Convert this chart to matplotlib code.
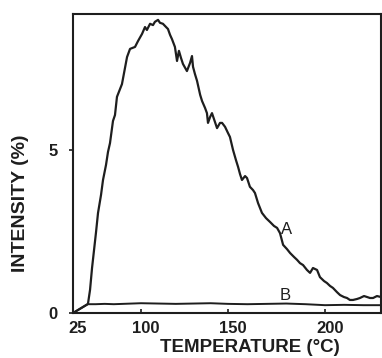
"""
Intensity vs. temperature, curves A and B (digitised from a scanned figure).
Output: out.png (382x358 px)
"""

import numpy as np
import matplotlib
matplotlib.use('Agg')
import matplotlib.pyplot as plt
from matplotlib.transforms import ScaledTranslation


# ============================ Data ============================
TEMP_A = [25.0, 41.5, 43.8, 46.0, 48.2, 50.4, 52.6, 55.9, 58.1, 61.4, 63.6, 65.8,
          69.1, 71.3, 73.5, 79.0, 84.6, 87.9, 93.4, 96.7, 100.6, 102.3, 103.4,
          105.2, 106.9, 108.0, 109.8, 110.9, 112.6, 114.4, 115.5, 116.7, 117.8,
          119.5, 120.7, 121.8, 123.0, 124.1, 126.4, 128.2, 129.3, 129.9, 131.0,
          132.2, 134.0, 135.1, 136.8, 137.9, 138.5, 139.7, 140.8, 142.5, 143.7,
          145.4, 146.6, 148.3, 150.0, 151.0, 152.6, 154.1, 155.2, 156.2, 157.2,
          158.8, 159.8, 161.3, 162.9, 163.9, 165.5, 167.5, 169.6, 171.7, 173.7,
          175.3, 176.8, 178.4, 180.4, 182.0, 184.0, 185.6, 187.1, 188.7, 190.7,
          192.3, 193.8, 195.9, 197.4, 199.5, 201.0, 202.6, 204.1, 206.2, 207.8,
          209.8, 211.4, 212.9, 214.5, 216.6, 218.1, 220.2, 221.8, 223.3, 224.9,
          226.9, 229.0]
INTENSITY_A = [0.0, 0.28, 0.71, 1.38, 1.93, 2.48, 3.07, 3.62, 4.08, 4.54, 4.94, 5.21,
               5.89, 6.07, 6.63, 7.02, 7.85, 8.10, 8.16, 8.34, 8.56, 8.77, 8.68,
               8.87, 8.83, 8.93, 8.99, 8.90, 8.87, 8.77, 8.71, 8.53, 8.40,
               8.16, 7.73, 8.04, 7.82, 7.64, 7.42, 7.67, 7.88, 7.55, 7.33,
               7.12, 6.69, 6.50, 6.29, 6.13, 5.83, 6.01, 6.13, 5.86, 5.67,
               5.83, 5.83, 5.71, 5.52, 5.40, 5.00, 4.69, 4.48, 4.26, 4.08,
               4.20, 4.14, 3.87, 3.77, 3.68, 3.37, 3.07, 2.91, 2.79, 2.67,
               2.61, 2.45, 2.09, 1.96, 1.84, 1.72, 1.63, 1.53, 1.47, 1.32,
               1.23, 1.38, 1.32, 1.10, 0.98, 0.92, 0.83, 0.77, 0.64, 0.55,
               0.49, 0.46, 0.40, 0.40, 0.43, 0.46, 0.52, 0.49, 0.46, 0.46,
               0.52, 0.49]

TEMP_B = [25.0, 41.5, 50.0, 60.0, 70.0, 80.0, 90.0, 100.0, 110.0, 120.0, 130.0,
          140.0, 150.0, 160.0, 170.0, 180.0, 190.0, 200.0, 210.0, 220.0, 229.0]
INTENSITY_B = [0.0, 0.27, 0.27, 0.28, 0.27, 0.28, 0.29, 0.30, 0.29, 0.28, 0.29,
               0.30, 0.28, 0.27, 0.28, 0.29, 0.27, 0.24, 0.25, 0.24, 0.24]

X_TICKS = [25, 100, 150, 200]
Y_TICKS = [0, 5]

# the original temperature axis is not linear: 25 is squeezed next to 100
TEMP_KNOTS = [25, 100, 150, 200, 229]
POS_KNOTS = [0, 68, 155, 252, 308]

FONT = 'Liberation Sans'
INK = '#1e1e1e'


def _fwd(t):
    return np.interp(t, TEMP_KNOTS, POS_KNOTS)


def _inv(p):
    return np.interp(p, POS_KNOTS, TEMP_KNOTS)


def main():
    fig = plt.figure(figsize=(3.82, 3.58), dpi=100)
    ax = fig.add_axes([73 / 382, 45 / 358, 308 / 382, 299 / 358])

    ax.plot(TEMP_A, INTENSITY_A, color=INK, linewidth=1.6)
    ax.plot(TEMP_B, INTENSITY_B, color=INK, linewidth=1.4)

    ax.set_xscale('function', functions=(_fwd, _inv))
    ax.set_xlim(25, 229)
    ax.set_ylim(0, 9.17)

    ax.text(180.4, 2.55, 'A', fontsize=12, family=FONT, color=INK,
            ha='center', va='center')
    ax.text(179.4, 0.55, 'B', fontsize=12, family=FONT, color=INK,
            ha='center', va='center')

    ax.set_xticks(X_TICKS)
    ax.set_xticklabels([str(t) for t in X_TICKS])
    ax.set_yticks(Y_TICKS)
    ax.set_yticklabels([str(v) for v in Y_TICKS])
    ax.tick_params(axis='x', direction='in', length=3, width=1.2, pad=6,
                   labelsize=12, colors=INK)
    ax.tick_params(axis='y', direction='out', length=3, width=1.2, pad=8,
                   labelsize=12, colors=INK)
    for lab in ax.get_xticklabels() + ax.get_yticklabels():
        lab.set_fontfamily(FONT)
        lab.set_fontweight('bold')
    # labels in the original sit a little right of their tick marks
    shift = ScaledTranslation(5 / 100, 0, fig.dpi_scale_trans)
    for lab in ax.get_xticklabels():
        lab.set_transform(lab.get_transform() + shift)

    for sp in ax.spines.values():
        sp.set_linewidth(1.5)
        sp.set_color(INK)

    ax.set_xlabel('TEMPERATURE (°C)', fontsize=13.5, family=FONT,
                  fontweight='bold', color=INK)
    ax.xaxis.set_label_coords((250 - 73) / 308, (313 - 339) / 299)
    ax.set_ylabel('INTENSITY (%)', fontsize=14, family=FONT,
                  fontweight='bold', color=INK)
    ax.yaxis.set_label_coords((29 - 73) / 308, (313 - 203) / 299)

    fig.savefig('out.png', dpi=100)
    plt.close(fig)


if __name__ == "__main__":
    main()
